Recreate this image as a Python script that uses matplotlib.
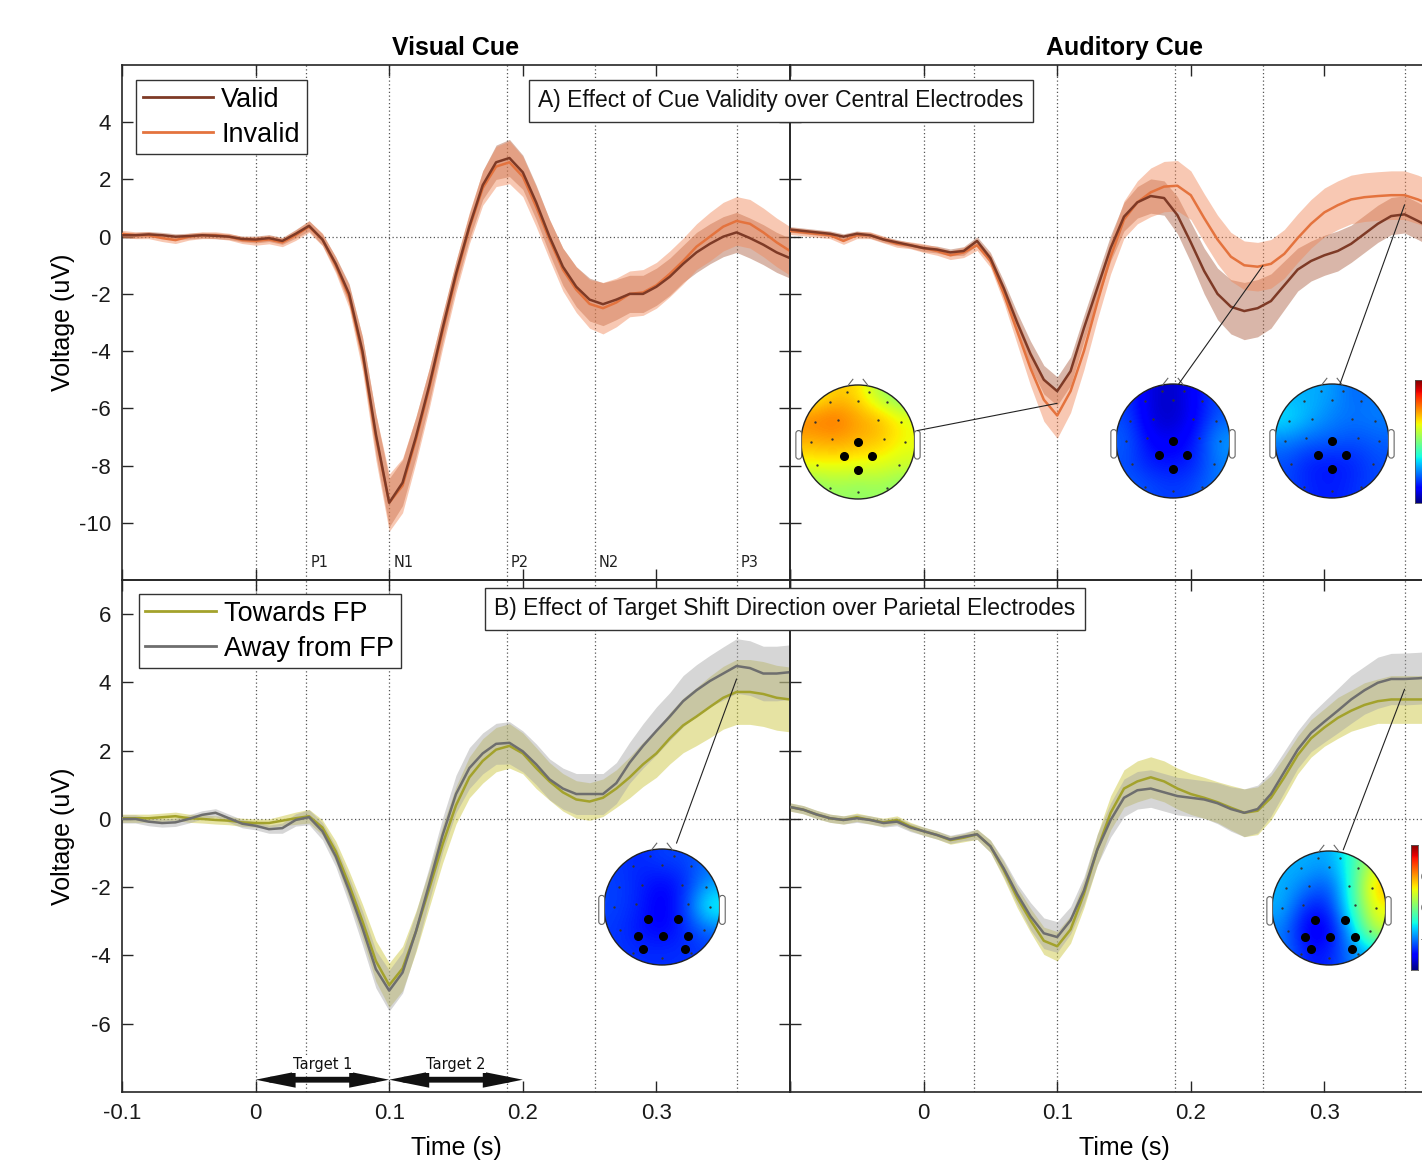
import numpy as np
import matplotlib
matplotlib.use("Agg")
import matplotlib.pyplot as plt
from matplotlib.patches import Circle, FancyBboxPatch, ConnectionPatch
from matplotlib.lines import Line2D

plt.rcParams['font.family'] = ['Liberation Sans', 'DejaVu Sans']

# ---------------- data ----------------
time_s = np.round(np.linspace(-0.10, 0.40, 51), 3)

# A) Cue validity, central electrodes – Visual cue
vis_valid = [0.05, 0.05, 0.08, 0.05, 0.00, 0.02, 0.05, 0.03, 0.00, -0.08,
             -0.10, -0.05, -0.15, 0.10, 0.38, -0.10, -0.95, -2.00, -4.00, -6.90,
             -9.30, -8.60, -7.00, -5.20, -3.20, -1.30, 0.36, 1.80, 2.60, 2.75,
             2.25, 1.20, 0.00, -1.05, -1.75, -2.20, -2.36, -2.20, -2.00, -2.00,
             -1.75, -1.40, -0.95, -0.55, -0.25, 0.00, 0.15, -0.05, -0.28, -0.55,
             -0.75]
vis_invalid = [0.10, 0.05, 0.05, -0.05, -0.12, 0.00, 0.05, 0.05, 0.00, -0.12,
               -0.15, -0.10, -0.20, 0.05, 0.35, -0.10, -1.00, -2.10, -4.10, -7.00,
               -9.30, -8.70, -7.10, -5.30, -3.30, -1.40, 0.30, 1.70, 2.45, 2.60,
               2.10, 1.05, -0.10, -1.15, -1.85, -2.35, -2.50, -2.30, -2.00, -1.95,
               -1.70, -1.30, -0.85, -0.35, 0.00, 0.35, 0.55, 0.45, 0.15, -0.20,
               -0.50]
vis_valid_se = [0.10] * 10 + [
    0.12, 0.12, 0.12, 0.15, 0.18, 0.20, 0.25, 0.35, 0.50, 0.70,
    0.85, 0.80, 0.70, 0.60, 0.50, 0.45, 0.45, 0.50, 0.60, 0.65,
    0.60, 0.60, 0.60, 0.65, 0.70, 0.75, 0.75, 0.70, 0.65, 0.65,
    0.65, 0.65, 0.65, 0.70, 0.70, 0.70, 0.70, 0.70, 0.70, 0.70,
    0.70]
vis_invalid_se = [0.12] * 10 + [
    0.15, 0.15, 0.15, 0.18, 0.20, 0.22, 0.28, 0.40, 0.60, 0.80,
    1.00, 0.95, 0.80, 0.70, 0.60, 0.55, 0.55, 0.60, 0.70, 0.75,
    0.70, 0.70, 0.70, 0.75, 0.80, 0.85, 0.90, 0.85, 0.80, 0.80,
    0.80, 0.80, 0.80, 0.80, 0.85, 0.85, 0.85, 0.85, 0.85, 0.85,
    0.85]

# A) Auditory cue
aud_valid = [0.25, 0.20, 0.15, 0.10, 0.00, 0.10, 0.05, -0.10, -0.20, -0.30,
             -0.40, -0.45, -0.55, -0.50, -0.15, -0.75, -1.80, -3.00, -4.10, -5.00,
             -5.40, -4.70, -3.20, -1.80, -0.40, 0.70, 1.20, 1.42, 1.35, 0.75,
             -0.20, -1.20, -2.00, -2.45, -2.60, -2.50, -2.25, -1.70, -1.15, -0.85,
             -0.65, -0.50, -0.25, 0.10, 0.45, 0.72, 0.78, 0.55, 0.30, 0.10,
             -0.10]
aud_invalid = [0.20, 0.15, 0.10, 0.05, -0.15, 0.05, 0.05, -0.10, -0.25, -0.30,
               -0.40, -0.50, -0.65, -0.55, -0.30, -0.85, -2.00, -3.30, -4.60, -5.70,
               -6.25, -5.40, -4.00, -2.30, -0.70, 0.60, 1.20, 1.55, 1.75, 1.78,
               1.45, 0.65, -0.10, -0.70, -1.00, -1.05, -0.95, -0.60, -0.05, 0.45,
               0.85, 1.10, 1.30, 1.38, 1.42, 1.45, 1.45, 1.30, 1.10, 0.90,
               0.70]
aud_valid_se = [0.10] * 10 + [
    0.12, 0.12, 0.12, 0.15, 0.15, 0.20, 0.25, 0.35, 0.45, 0.50,
    0.50, 0.50, 0.45, 0.45, 0.45, 0.50, 0.55, 0.60, 0.60, 0.65,
    0.70, 0.80, 0.90, 0.95, 1.00, 1.00, 0.95, 0.85, 0.75, 0.70,
    0.70, 0.70, 0.65, 0.65, 0.65, 0.65, 0.65, 0.65, 0.65, 0.65,
    0.65]
aud_invalid_se = [0.12] * 10 + [
    0.15, 0.15, 0.15, 0.18, 0.18, 0.22, 0.30, 0.45, 0.60, 0.75,
    0.80, 0.75, 0.65, 0.60, 0.60, 0.65, 0.75, 0.85, 0.88, 0.88,
    0.85, 0.85, 0.85, 0.85, 0.85, 0.85, 0.85, 0.85, 0.85, 0.85,
    0.85, 0.85, 0.85, 0.85, 0.85, 0.85, 0.85, 0.85, 0.85, 0.85,
    0.85]

# B) Target shift direction, parietal electrodes – Visual cue
vis_toward = [0.02, 0.02, 0.02, 0.05, 0.08, 0.02, 0.00, -0.03, -0.05, -0.10,
              -0.12, -0.12, -0.05, 0.02, 0.08, -0.25, -0.95, -1.93, -3.00, -4.16,
              -4.87, -4.38, -3.30, -2.04, -0.74, 0.40, 1.22, 1.70, 2.03, 2.14,
              1.92, 1.49, 1.10, 0.78, 0.57, 0.51, 0.62, 0.89, 1.22, 1.60,
              1.92, 2.36, 2.74, 3.00, 3.28, 3.55, 3.72, 3.72, 3.66, 3.55,
              3.50]
vis_away = [0.00, 0.00, -0.08, -0.12, -0.10, 0.00, 0.12, 0.18, 0.02, -0.14,
            -0.20, -0.30, -0.27, -0.03, 0.05, -0.36, -1.10, -2.10, -3.20, -4.40,
            -5.03, -4.50, -3.30, -1.90, -0.47, 0.73, 1.49, 1.92, 2.20, 2.23,
            1.98, 1.60, 1.16, 0.89, 0.73, 0.73, 0.73, 1.05, 1.65, 2.14,
            2.58, 3.00, 3.45, 3.77, 4.04, 4.26, 4.48, 4.42, 4.26, 4.26,
            4.30]
vis_toward_se = [0.12] * 10 + [
    0.12, 0.12, 0.15, 0.18, 0.20, 0.22, 0.30, 0.40, 0.50, 0.60,
    0.65, 0.65, 0.60, 0.55, 0.55, 0.55, 0.60, 0.65, 0.65, 0.65,
    0.60, 0.60, 0.55, 0.55, 0.55, 0.55, 0.55, 0.55, 0.60, 0.65,
    0.70, 0.75, 0.80, 0.85, 0.90, 0.92, 0.95, 0.95, 0.95, 0.95,
    0.95]
vis_away_se = [0.12] * 10 + [
    0.12, 0.12, 0.15, 0.18, 0.22, 0.25, 0.30, 0.40, 0.50, 0.55,
    0.60, 0.60, 0.55, 0.50, 0.50, 0.55, 0.60, 0.60, 0.60, 0.62,
    0.60, 0.60, 0.60, 0.60, 0.60, 0.60, 0.60, 0.60, 0.60, 0.65,
    0.70, 0.70, 0.75, 0.75, 0.75, 0.78, 0.80, 0.80, 0.80, 0.80,
    0.80]

# B) Auditory cue
aud_toward = [0.35, 0.27, 0.13, 0.02, -0.03, 0.05, -0.03, -0.10, -0.03, -0.22,
              -0.36, -0.47, -0.62, -0.55, -0.45, -0.80, -1.50, -2.30, -2.97, -3.57,
              -3.73, -3.24, -2.20, -0.90, 0.18, 0.89, 1.10, 1.22, 1.10, 0.89,
              0.73, 0.62, 0.49, 0.33, 0.18, 0.24, 0.62, 1.22, 1.87, 2.36,
              2.68, 2.96, 3.17, 3.34, 3.45, 3.50, 3.50, 3.50, 3.50, 3.45,
              3.40]
aud_away = [0.35, 0.27, 0.13, 0.02, -0.03, 0.02, -0.03, -0.12, -0.08, -0.25,
            -0.36, -0.47, -0.60, -0.52, -0.45, -0.80, -1.45, -2.20, -2.85, -3.35,
            -3.46, -2.97, -2.10, -0.90, -0.03, 0.62, 0.84, 0.89, 0.78, 0.67,
            0.62, 0.57, 0.46, 0.29, 0.18, 0.29, 0.73, 1.38, 2.03, 2.52,
            2.85, 3.17, 3.50, 3.77, 3.99, 4.10, 4.10, 4.12, 4.15, 4.10,
            4.05]
aud_toward_se = [0.12] * 10 + [
    0.12, 0.12, 0.12, 0.12, 0.15, 0.18, 0.25, 0.30, 0.35, 0.40,
    0.43, 0.40, 0.40, 0.45, 0.50, 0.55, 0.60, 0.60, 0.60, 0.60,
    0.60, 0.60, 0.60, 0.65, 0.70, 0.70, 0.65, 0.60, 0.55, 0.55,
    0.55, 0.60, 0.60, 0.65, 0.65, 0.70, 0.70, 0.70, 0.70, 0.70,
    0.70]
aud_away_se = [0.12] * 10 + [
    0.12, 0.12, 0.12, 0.12, 0.15, 0.18, 0.25, 0.30, 0.40, 0.45,
    0.45, 0.40, 0.40, 0.45, 0.50, 0.55, 0.55, 0.55, 0.55, 0.55,
    0.55, 0.55, 0.60, 0.65, 0.70, 0.70, 0.65, 0.60, 0.55, 0.55,
    0.60, 0.65, 0.70, 0.70, 0.75, 0.75, 0.76, 0.76, 0.76, 0.76,
    0.76]

peak_times = [0.038, 0.10, 0.188, 0.254, 0.36]
peak_labels = ['P1', 'N1', 'P2', 'N2', 'P3']
x_ticks = [-0.1, 0.0, 0.1, 0.2, 0.3, 0.4]
x_labels_left = ['-0.1', '0', '0.1', '0.2', '0.3', '']
x_labels_right = ['', '0', '0.1', '0.2', '0.3', '']
y_ticks_a = [-10, -8, -6, -4, -2, 0, 2, 4]
y_ticks_b = [-6, -4, -2, 0, 2, 4, 6]
target_labels = ['Target 1', 'Target 2']
target_spans = [(0.0, 0.1), (0.1, 0.2)]

# topography maps (coarse 5x5 grids, front row first, normalised colour scale 0..1)
topo_a_n1 = [[0.62, 0.70, 0.68, 0.55, 0.48],
             [0.78, 0.80, 0.74, 0.72, 0.64],
             [0.72, 0.74, 0.72, 0.70, 0.64],
             [0.64, 0.64, 0.63, 0.62, 0.60],
             [0.50, 0.54, 0.52, 0.54, 0.50]]
topo_a_n2 = [[0.18, 0.08, 0.06, 0.12, 0.20],
             [0.20, 0.08, 0.06, 0.12, 0.22],
             [0.22, 0.12, 0.10, 0.15, 0.28],
             [0.20, 0.15, 0.14, 0.16, 0.25],
             [0.22, 0.20, 0.18, 0.20, 0.25]]
topo_a_p3 = [[0.30, 0.30, 0.28, 0.22, 0.25],
             [0.36, 0.30, 0.25, 0.24, 0.25],
             [0.25, 0.22, 0.22, 0.20, 0.22],
             [0.20, 0.15, 0.14, 0.16, 0.20],
             [0.20, 0.16, 0.15, 0.17, 0.20]]
topo_b_vis = [[0.18, 0.16, 0.19, 0.19, 0.23],
              [0.19, 0.16, 0.12, 0.16, 0.28],
              [0.19, 0.16, 0.10, 0.18, 0.40],
              [0.18, 0.14, 0.12, 0.16, 0.23],
              [0.18, 0.17, 0.17, 0.17, 0.18]]
topo_b_aud = [[0.30, 0.30, 0.28, 0.40, 0.60],
              [0.30, 0.25, 0.20, 0.40, 0.72],
              [0.30, 0.15, 0.15, 0.40, 0.65],
              [0.25, 0.10, 0.10, 0.30, 0.60],
              [0.25, 0.15, 0.15, 0.25, 0.30]]
central_elec = [(0.0, 0.0), (-0.25, -0.25), (0.25, -0.25), (0.0, -0.49)]
parietal_elec = [(-0.24, -0.21), (0.28, -0.21), (-0.42, -0.5), (0.02, -0.5),
                 (0.45, -0.5), (-0.32, -0.72), (0.40, -0.72)]
other_elec = [(-0.5, 0.7), (0.0, 0.72), (0.5, 0.7), (-0.75, 0.35), (-0.35, 0.38),
              (0.35, 0.38), (0.75, 0.35), (-0.82, 0.0), (-0.45, 0.05), (0.45, 0.05),
              (0.82, 0.0), (-0.72, -0.4), (0.72, -0.4), (-0.5, -0.8), (0.0, -0.88),
              (0.5, -0.8), (-0.2, 0.88), (0.2, 0.88)]

# ---------------- styling ----------------
W, H = 1422, 1161
valid_c, invalid_c = '#7E3A26', '#E4733E'
valid_band, invalid_band = '#AB5F40', '#F08757'
toward_c, away_c = '#A3A22C', '#6E6E6E'
toward_band, away_band = '#C8C333', '#A4A4A4'
dark = '#262626'

fig = plt.figure(figsize=(W / 100, H / 100), dpi=100)


def prect(x0, y0, x1, y1):
    return [x0 / W, 1 - y1 / H, (x1 - x0) / W, (y1 - y0) / H]


ax_tl = fig.add_axes(prect(122, 65, 790, 580))
ax_tr = fig.add_axes(prect(790, 65, 1458, 580))
ax_bl = fig.add_axes(prect(122, 580, 790, 1092))
ax_br = fig.add_axes(prect(790, 580, 1458, 1092))


def style(ax, ylim, yticks, ylab, xlab):
    ax.set_facecolor('none')
    ax.set_xlim(-0.1, 0.4)
    ax.set_ylim(*ylim)
    ax.set_xticks(x_ticks)
    ax.set_xticklabels(xlab)
    ax.set_yticks(yticks)
    ax.set_yticklabels([str(v) for v in yticks] if ylab else [''] * len(yticks))
    ax.tick_params(direction='in', length=8, width=1.0, top=True, right=True,
                   labelsize=16, pad=8, color=dark, labelcolor='#1a1a1a')
    for s in ax.spines.values():
        s.set_color(dark)
        s.set_linewidth(1.2)
    for t in [0.0] + peak_times:
        ax.axvline(t, color='#555555', ls=(0, (1, 2)), lw=0.9, zorder=1)
    ax.axhline(0, color='#555555', ls=(0, (1, 2)), lw=0.9, zorder=1)


style(ax_tl, (-12, 6), y_ticks_a, True, [''] * 6)
style(ax_tr, (-12, 6), y_ticks_a, False, [''] * 6)
style(ax_bl, (-8, 7), y_ticks_b, True, x_labels_left)
style(ax_br, (-8, 7), y_ticks_b, False, x_labels_right)


def erp(ax, vals, ses, line_cols, band_cols, order):
    for v, se, bc in zip(vals, ses, band_cols):
        v = np.asarray(v); se = np.asarray(se)
        ax.fill_between(time_s, v - se, v + se, color=bc, alpha=0.45, lw=0, zorder=2)
    for i in order:
        ax.plot(time_s, vals[i], color=line_cols[i], lw=1.8, zorder=3,
                solid_joinstyle='round')


erp(ax_tl, [vis_valid, vis_invalid], [vis_valid_se, vis_invalid_se],
    [valid_c, invalid_c], [valid_band, invalid_band], [1, 0])
erp(ax_tr, [aud_valid, aud_invalid], [aud_valid_se, aud_invalid_se],
    [valid_c, invalid_c], [valid_band, invalid_band], [1, 0])
erp(ax_bl, [vis_toward, vis_away], [vis_toward_se, vis_away_se],
    [toward_c, away_c], [toward_band, away_band], [0, 1])
erp(ax_br, [aud_toward, aud_away], [aud_toward_se, aud_away_se],
    [toward_c, away_c], [toward_band, away_band], [0, 1])

# legends
leg_kw = dict(loc='upper left', borderaxespad=0, fontsize=19.5, frameon=True,
              fancybox=False, edgecolor='#333333', framealpha=1, handlelength=2.6,
              handletextpad=0.3, labelspacing=0.33, borderpad=0.25)
lg = ax_tl.legend([Line2D([], [], color=valid_c, lw=2), Line2D([], [], color=invalid_c, lw=2)],
                  ['Valid', 'Invalid'], bbox_to_anchor=(0.021, 0.971), **leg_kw)
lg.get_frame().set_linewidth(1.0)
lg = ax_bl.legend([Line2D([], [], color=toward_c, lw=2), Line2D([], [], color=away_c, lw=2)],
                  ['Towards FP', 'Away from FP'], bbox_to_anchor=(0.025, 0.973), **leg_kw)
lg.get_frame().set_linewidth(1.0)

# titles and labels
ax_tl.set_title('Visual Cue', fontsize=18, fontweight='bold', pad=7)
ax_tr.set_title('Auditory Cue', fontsize=18, fontweight='bold', pad=7)
for ax in (ax_tl, ax_bl):
    ax.set_ylabel('Voltage (uV)', fontsize=18)
    ax.yaxis.set_label_coords(-0.071, 0.5)
for ax in (ax_bl, ax_br):
    ax.set_xlabel('Time (s)', fontsize=18)
    ax.xaxis.set_label_coords(0.5, -0.085)

# peak labels
for t, lab in zip(peak_times, peak_labels):
    ax_tl.text(t + 0.003, -11.4, lab, fontsize=10.5, ha='left', va='center',
               color='#222222', family=['DejaVu Sans'])

# target arrows
for (t0, t1), lab in zip(target_spans, target_labels):
    ax_bl.annotate('', xy=(t1, -7.64), xytext=(t0, -7.64),
                   arrowprops=dict(arrowstyle='<|-|>,head_length=1.6,head_width=0.32',
                                   color='#111111', lw=4.2, shrinkA=0, shrinkB=0,
                                   mutation_scale=10, joinstyle='miter'), zorder=4)
    ax_bl.text((t0 + t1) / 2, -7.2, lab, fontsize=10.5, ha='center', va='center',
               family=['DejaVu Sans'], color='#111111',
               bbox=dict(boxstyle='square,pad=0.05', fc='white', ec='none'), zorder=4)

# boxed panel titles
fig.text(781 / W, 1 - 101 / H, 'A) Effect of Cue Validity over Central Electrodes',
         ha='center', va='center', fontsize=16.5, color='#111111',
         bbox=dict(boxstyle='square,pad=0.4', fc='white', ec='#333333', lw=1.0))
fig.text(785 / W, 1 - 609 / H, 'B) Effect of Target Shift Direction over Parietal Electrodes',
         ha='center', va='center', fontsize=16.5, color='#111111',
         bbox=dict(boxstyle='square,pad=0.4', fc='white', ec='#333333', lw=1.0))


# topomaps
def topomap(cx, cy, r, grid, elecs):
    half = 1.35 * r
    tax = fig.add_axes([(cx - half) / W, 1 - (cy + half) / H, 2 * half / W, 2 * half / H])
    tax.set_xlim(-1.35, 1.35)
    tax.set_ylim(-1.35, 1.35)
    tax.axis('off')
    im = tax.imshow(np.array(grid), extent=(-1, 1, -1, 1), origin='upper', cmap='jet',
                    vmin=0, vmax=1, interpolation='bicubic', aspect='auto')
    im.set_clip_path(Circle((0, 0), 1.0, transform=tax.transData))
    tax.add_patch(Circle((0, 0), 1.0, fc='none', ec='#222222', lw=1.0))
    tax.plot([-0.18, -0.09], [0.985, 1.1], color='#666666', lw=0.8)
    tax.plot([0.09, 0.18], [1.1, 0.985], color='#666666', lw=0.8)
    for sx in (-1, 1):
        x0 = 0.99 if sx > 0 else -1.09
        tax.add_patch(FancyBboxPatch((x0, -0.3), 0.1, 0.5,
                                     boxstyle='round,pad=0,rounding_size=0.05',
                                     fc='white', ec='#666666', lw=0.8))
    ox, oy = zip(*other_elec)
    tax.plot(ox, oy, 'o', color='#333333', ms=0.7, ls='none')
    ex, ey = zip(*elecs)
    tax.plot(ex, ey, 'o', color='black', ms=5.5, ls='none')
    return tax


t1 = topomap(858, 442, 57, topo_a_n1, central_elec)
t2 = topomap(1173, 441, 57, topo_a_n2, central_elec)
t3 = topomap(1332, 441, 57, topo_a_p3, central_elec)
t4 = topomap(662, 907, 58, topo_b_vis, parietal_elec)
t5 = topomap(1329, 908, 57, topo_b_aud, parietal_elec)


def connect(ax, t, v, tax, hx, hy):
    con = ConnectionPatch(xyA=(t, v), coordsA='data', axesA=ax,
                          xyB=(hx, hy), coordsB='data', axesB=tax,
                          color='#222222', lw=0.8)
    fig.add_artist(con)


mean_a = (np.asarray(aud_valid) + np.asarray(aud_invalid)) / 2
connect(ax_tr, 0.10, float(np.interp(0.10, time_s, mean_a)), t1, 1.04, 0.2)
connect(ax_tr, 0.254, float(np.interp(0.254, time_s, aud_invalid)), t2, 0.1, 1.0)
connect(ax_tr, 0.36, float(np.interp(0.36, time_s, mean_a)), t3, 0.14, 1.0)
mean_bv = (np.asarray(vis_toward) + np.asarray(vis_away)) / 2
mean_ba = (np.asarray(aud_toward) + np.asarray(aud_away)) / 2
connect(ax_bl, 0.36, float(np.interp(0.36, time_s, mean_bv)), t4, 0.25, 1.1)
connect(ax_br, 0.36, float(np.interp(0.36, time_s, mean_ba)), t5, 0.25, 1.02)


# colour bars
def cbar(x0, y0, x1, y1, labels):
    cax = fig.add_axes(prect(x0, y0, x1, y1))
    cax.imshow(np.linspace(1, 0, 256)[:, None], aspect='auto', cmap='jet',
               extent=(0, 1, 0, 1))
    cax.set_xticks([])
    cax.yaxis.tick_right()
    cax.set_yticks([0.25, 0.5, 0.75])
    cax.set_yticklabels(labels)
    cax.tick_params(length=0, labelsize=9, pad=2)
    for s in cax.spines.values():
        s.set_linewidth(0.6)
        s.set_color('#555555')


cbar(1415, 380, 1422, 503, ['', '', ''])
cbar(1411, 845, 1418, 970, ['-1', '0', '0'])

fig.savefig('out.png', dpi=100)
